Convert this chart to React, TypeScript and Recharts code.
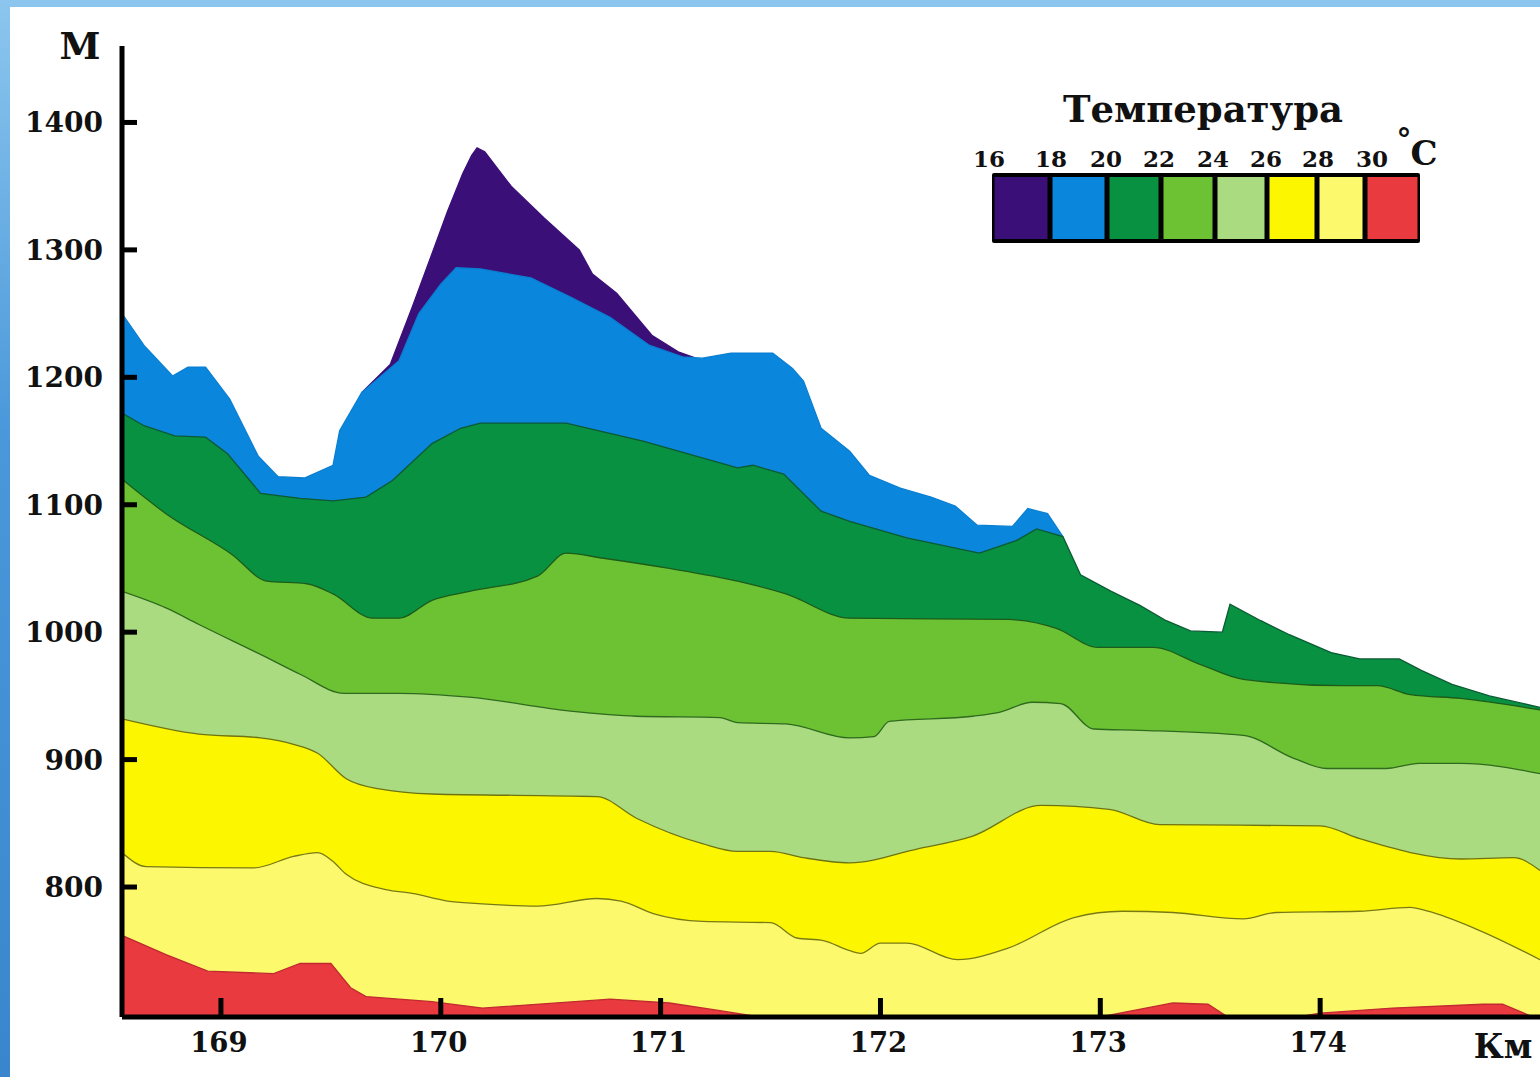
import React from 'react';
import { AreaChart, Area, XAxis, YAxis } from 'recharts';

const kmTicks = [169, 170, 171, 172, 173, 174];
const mTicks = [800, 900, 1000, 1100, 1200, 1300, 1400];
const legendTemps = ['16', '18', '20', '22', '24', '26', '28', '30'];

// upper boundary of each temperature layer, [km, m]
const peak16: [number, number][] = [
  [169.64, 1188], [169.77, 1210], [169.87, 1255], [169.96, 1297], [170.03, 1330],
  [170.1, 1360], [170.14, 1374], [170.165, 1380], [170.2, 1377], [170.32, 1350],
  [170.47, 1325], [170.63, 1300], [170.69, 1281], [170.8, 1266], [170.96, 1233],
  [171.08, 1220], [171.16, 1215],
];

const top18: [number, number][] = [
  [168.55, 1250], [168.65, 1225], [168.78, 1201], [168.85, 1208], [168.93, 1208],
  [169.04, 1183], [169.17, 1138], [169.26, 1122], [169.38, 1121], [169.51, 1131],
  [169.54, 1158], [169.62, 1182], [169.64, 1188], [169.81, 1213], [169.9, 1250],
  [170.0, 1273], [170.07, 1286], [170.18, 1285], [170.41, 1278], [170.59, 1263],
  [170.77, 1247], [170.95, 1225], [171.1, 1216], [171.19, 1215], [171.32, 1219],
  [171.51, 1219], [171.6, 1207], [171.65, 1197], [171.73, 1160], [171.86, 1142],
  [171.95, 1123], [172.09, 1113], [172.23, 1106], [172.34, 1099], [172.44, 1084],
  [172.6, 1083], [172.67, 1097], [172.76, 1093], [172.83, 1075],
];

const top20: [number, number][] = [
  [168.55, 1172], [168.65, 1162], [168.79, 1154], [168.93, 1153], [169.03, 1140],
  [169.18, 1109], [169.36, 1105], [169.51, 1103], [169.66, 1106], [169.78, 1119],
  [169.96, 1148], [170.09, 1160], [170.18, 1164], [170.57, 1164], [170.92, 1150],
  [171.35, 1129], [171.42, 1131], [171.56, 1124], [171.73, 1095], [171.86, 1087],
  [172.12, 1074], [172.45, 1062], [172.62, 1072], [172.71, 1081], [172.83, 1075],
  [172.91, 1045], [173.05, 1032], [173.18, 1021], [173.3, 1009], [173.41, 1001],
  [173.555, 1000], [173.59, 1022], [173.73, 1009], [173.86, 998], [174.05, 984],
  [174.18, 979], [174.36, 979], [174.46, 970], [174.6, 959], [174.77, 950],
  [175.0, 941],
];

const top22: [number, number][] = [
  [168.55, 1120], [168.75, 1093], [169.05, 1061], [169.21, 1040], [169.39, 1038],
  [169.51, 1030], [169.69, 1011], [169.81, 1011], [169.96, 1025], [170.13, 1032],
  [170.44, 1044], [170.57, 1062], [170.74, 1058], [171.04, 1050], [171.35, 1040],
  [171.57, 1030], [171.86, 1011], [172.58, 1010], [172.8, 1003], [172.99, 988],
  [173.24, 988], [173.45, 975], [173.65, 963], [174.1, 958], [174.26, 958],
  [174.41, 951], [174.64, 948], [175.0, 939],
];

const top24: [number, number][] = [
  [168.55, 1032], [168.75, 1019], [168.9, 1006], [169.21, 980], [169.36, 967],
  [169.56, 952], [169.81, 952], [170.13, 949], [170.59, 938], [170.89, 934],
  [171.27, 933], [171.35, 929], [171.57, 928], [171.86, 917], [171.97, 918],
  [172.04, 930], [172.42, 934], [172.54, 937], [172.69, 945], [172.82, 944],
  [172.97, 924], [173.18, 923], [173.65, 919], [173.88, 901], [174.03, 893],
  [174.3, 893], [174.45, 897], [174.64, 897], [175.0, 889],
];

const top26: [number, number][] = [
  [168.55, 932], [168.9, 920], [169.18, 917], [169.33, 912], [169.44, 905],
  [169.57, 885], [169.72, 877], [169.96, 873], [170.71, 871], [170.89, 854],
  [171.19, 834], [171.35, 828], [171.5, 828], [171.65, 823], [171.86, 819],
  [172.17, 830], [172.42, 840], [172.73, 864], [173.04, 861], [173.27, 849],
  [174.0, 848], [174.18, 838], [174.64, 822], [174.88, 823], [175.0, 813],
];

const top28: [number, number][] = [
  [168.55, 827], [168.66, 816], [169.15, 815], [169.33, 824], [169.44, 827],
  [169.51, 820], [169.57, 810], [169.75, 798], [169.87, 795], [170.03, 789],
  [170.17, 787], [170.44, 785], [170.71, 791], [170.82, 789], [170.97, 779],
  [171.19, 773], [171.5, 772], [171.62, 760], [171.74, 758], [171.86, 750],
  [171.91, 748], [172.0, 756], [172.12, 756], [172.35, 743], [172.58, 752],
  [172.88, 776], [173.1, 781], [173.33, 780], [173.65, 775], [173.8, 780],
  [174.18, 781], [174.41, 784], [174.49, 781], [174.71, 767], [175.0, 743],
];

const top30: [number, number][] = [
  [168.55, 762], [168.75, 747], [168.94, 734], [169.24, 732], [169.36, 740],
  [169.5, 740], [169.59, 721], [169.66, 714], [169.96, 710], [170.19, 705],
  [170.77, 712], [171.04, 709], [171.27, 703], [171.45, 698], [173.0, 698],
  [173.33, 709], [173.49, 708], [173.58, 698], [173.9, 698], [174.0, 701],
  [174.33, 705], [174.74, 708], [174.83, 708], [174.97, 698], [175.0, 698],
];

const FONT = '"DejaVu Serif", "Liberation Serif", serif';

const layers = [
  { key: 't16', rows: peak16, fill: '#3b0f78', stroke: '#3b0f78', curve: 'linear' },
  { key: 't18', rows: top18, fill: '#0b86dd', stroke: '#0a7fd2', curve: 'linear' },
  { key: 't20', rows: top20, fill: '#079141', stroke: '#0b5a33', curve: 'linear' },
  { key: 't22', rows: top22, fill: '#6cc232', stroke: '#1d5c1a', curve: 'monotone' },
  { key: 't24', rows: top24, fill: '#aadb80', stroke: '#2f6a1e', curve: 'monotone' },
  { key: 't26', rows: top26, fill: '#fcf700', stroke: '#6f7410', curve: 'monotone' },
  { key: 't28', rows: top28, fill: '#fcfa6c', stroke: '#7a7a14', curve: 'monotone' },
  { key: 't30', rows: top30, fill: '#e83a3f', stroke: '#c02a30', curve: 'linear' },
];

const legendEdges = [992, 1050, 1107, 1161, 1215, 1267, 1317, 1365, 1420];
const legendLabelX = [989, 1051, 1106, 1159, 1213, 1266, 1318, 1372];

const toPoints = (rows: [number, number][]) => rows.map(([km, m]) => ({ km, m }));

const YTick = (props: any) => {
  const { x, y, payload } = props;
  return (
    <g>
      <line x1={x} x2={x + 15} y1={y} y2={y} stroke="#000" strokeWidth={5} />
      <text x={x - 19} y={y + 10} textAnchor="end" fontFamily={FONT} fontWeight="bold" fontSize={28} fill="#111">
        {payload.value}
      </text>
    </g>
  );
};

const XTick = (props: any) => {
  const { x, y, payload } = props;
  return (
    <g>
      <line x1={x} x2={x} y1={y - 19} y2={y} stroke="#000" strokeWidth={5} />
      <text x={x - 2} y={y + 35} textAnchor="middle" fontFamily={FONT} fontWeight="bold" fontSize={27.5} fill="#111">
        {payload.value}
      </text>
    </g>
  );
};

export default function App() {
  return (
    <div style={{ position: 'absolute', left: 0, top: 0, width: 1540, height: 1077, overflow: 'hidden',
      background: 'linear-gradient(180deg, #8cc6ee 0%, #4a98da 40%, #3a86cc 100%)' }}>
      <div style={{ position: 'absolute', left: 10, top: 7, right: 0, bottom: 0, background: '#fff' }} />
      <div style={{ position: 'absolute', left: 0, top: 0 }}>
        <AreaChart width={1540} height={1077} margin={{ top: 46, right: 0, left: 0, bottom: 0 }}>
          {layers.map((l) => (
            <Area
              key={l.key}
              data={toPoints(l.rows)}
              dataKey="m"
              type={l.curve as any}
              fill={l.fill}
              fillOpacity={1}
              stroke={l.stroke}
              strokeWidth={1.3}
              baseValue="dataMin"
              dot={false}
              activeDot={false}
              isAnimationActive={false}
            />
          ))}
          <XAxis
            dataKey="km"
            type="number"
            domain={[168.55, 175]}
            allowDataOverflow
            ticks={kmTicks}
            tick={XTick}
            tickSize={0}
            tickMargin={0}
            tickLine={false}
            height={60}
            axisLine={{ stroke: '#000', strokeWidth: 5 }}
          />
          <YAxis
            type="number"
            domain={[698, 1460]}
            allowDataOverflow
            ticks={mTicks}
            tick={YTick}
            tickSize={0}
            tickMargin={0}
            tickLine={false}
            width={122}
            axisLine={{ stroke: '#000', strokeWidth: 5 }}
          />
        </AreaChart>
      </div>
      <svg width={1540} height={1077} style={{ position: 'absolute', left: 0, top: 0, pointerEvents: 'none' }}>
        <text x={80} y={59} textAnchor="middle" fontFamily={FONT} fontWeight="bold" fontSize={37} fill="#111">М</text>
        <text x={1503} y={1058} textAnchor="middle" fontFamily={FONT} fontWeight="bold" fontSize={33} fill="#111">Км</text>
        <text x={1203} y={122} textAnchor="middle" fontFamily={FONT} fontWeight="bold" fontSize={37} fill="#111">Температура</text>
        {legendTemps.map((t, i) => (
          <text key={t} x={legendLabelX[i]} y={167} textAnchor="middle" fontFamily={FONT} fontWeight="bold" fontSize={23} fill="#111">
            {t}
          </text>
        ))}
        <text x={1404} y={150} textAnchor="middle" fontFamily={FONT} fontWeight="bold" fontSize={30} fill="#111">°</text>
        <text x={1424} y={165} textAnchor="middle" fontFamily={FONT} fontWeight="bold" fontSize={34} fill="#111">C</text>
        <rect x={legendEdges[0]} y={173} width={legendEdges[8] - legendEdges[0]} height={70} fill="#000" rx={2} />
        {layers.map((l, i) => (
          <rect
            key={l.key}
            x={legendEdges[i] + 2.5}
            y={177}
            width={legendEdges[i + 1] - legendEdges[i] - 5}
            height={62}
            fill={l.fill}
          />
        ))}
      </svg>
    </div>
  );
}
